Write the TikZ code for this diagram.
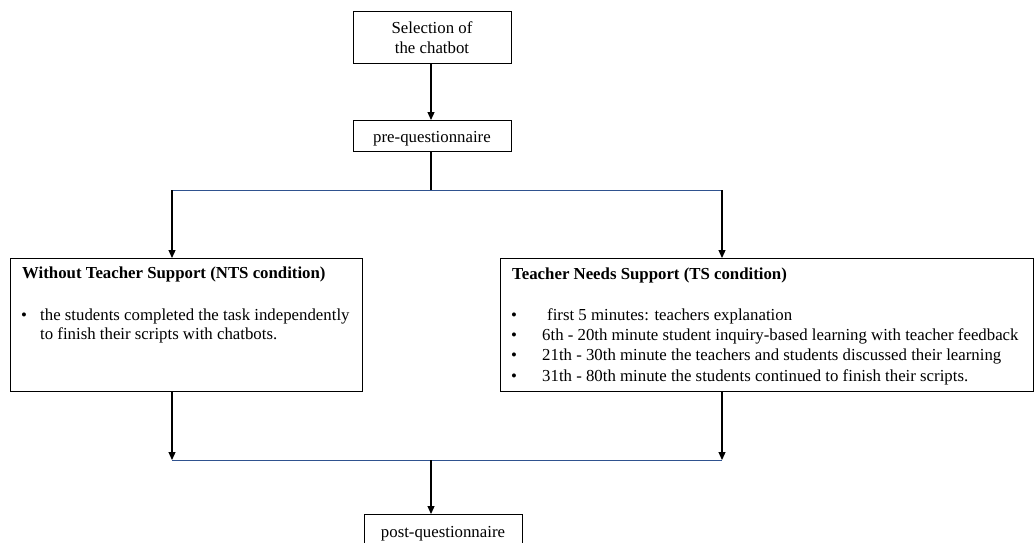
\documentclass[tikz,border=0pt]{standalone}
\usepackage{fontspec}
\setmainfont{Liberation Serif}
\usetikzlibrary{arrows.meta}
\definecolor{linkblue}{RGB}{47,82,143}
\begin{document}
\begin{tikzpicture}[x=1pt,y=-1pt,
  every node/.style={font=\fontsize{16.8}{19}\selectfont},
  boxnode/.style={draw=black,line width=1.1pt,inner sep=0pt,anchor=north west},
  txt/.style={inner sep=0pt,anchor=base west},
  ctxt/.style={inner sep=0pt,anchor=base},
  conn/.style={draw=black,line width=1.2pt},
  arr/.style={conn,-{Triangle[length=8pt,width=7pt]}},
  hline/.style={draw=linkblue,line width=0.9pt}]
\useasboundingbox (0,0) rectangle (1034,542);
% top box
\node[boxnode,minimum width=158pt,minimum height=52pt] (sel) at (353,11) {};
\node[ctxt] (sel1) at (432,33) {Selection of};
\node[ctxt] (sel2) at (432,53.5) {the chatbot};
% pre-questionnaire
\node[boxnode,minimum width=158pt,minimum height=31pt] (pre) at (353,120) {};
\node[ctxt] (pret) at (432,142) {pre-questionnaire};
% left box
\node[boxnode,minimum width=352pt,minimum height=133pt] (nts) at (10,258) {};
\node[txt,font=\fontsize{16.8}{19}\selectfont\bfseries] (ntsT) at (22,278) {Without Teacher Support (NTS condition)};
\node[txt] (ntsB1) at (21,320) {•};
\node[txt] (ntsL1) at (40,320) {the students completed the task independently};
\node[txt] (ntsL2) at (40,339.5) {to finish their scripts with chatbots.};
% right box
\node[boxnode,minimum width=533pt,minimum height=133pt] (ts) at (500,258) {};
\node[txt,font=\fontsize{16.8}{19}\selectfont\bfseries] (tsT) at (512,279) {Teacher Needs Support (TS condition)};
\node[txt] (tsB1) at (511,320) {•};
\node[txt] (tsL1) at (547,320) {first 5 minutes: teachers explanation};
\node[txt] (tsB2) at (511,340.3) {•};
\node[txt] (tsL2) at (542,340.3) {6th - 20th minute student inquiry-based learning with teacher feedback};
\node[txt] (tsB3) at (511,360.6) {•};
\node[txt] (tsL3) at (542,360.6) {21th - 30th minute the teachers and students discussed their learning};
\node[txt] (tsB4) at (511,381) {•};
\node[txt] (tsL4) at (542,381) {31th - 80th minute the students continued to finish their scripts.};
% post-questionnaire
\node[boxnode,minimum width=158pt,minimum height=40pt] (post) at (364,514) {};
\node[ctxt] (postt) at (443,537) {post-questionnaire};
% junction coordinates
\coordinate (split) at (431,190);
\coordinate (splitL) at (172,190);
\coordinate (splitR) at (722,190);
\coordinate (joinL) at (172,460);
\coordinate (joinR) at (722,460);
\coordinate (join) at (431,460);
% connectors
\draw[arr] (sel.south -| split) -- (pre.north -| split);
\draw[conn] (pre.south -| split) -- (split);
\draw[hline] (splitL) -- (splitR);
\draw[arr] (splitL) -- (nts.north -| splitL);
\draw[arr] (splitR) -- (ts.north -| splitR);
\draw[arr] (nts.south -| joinL) -- (joinL);
\draw[arr] (ts.south -| joinR) -- (joinR);
\draw[hline] (joinL) -- (joinR);
\draw[arr] (join) -- (post.north -| join);
\end{tikzpicture}
\end{document}
